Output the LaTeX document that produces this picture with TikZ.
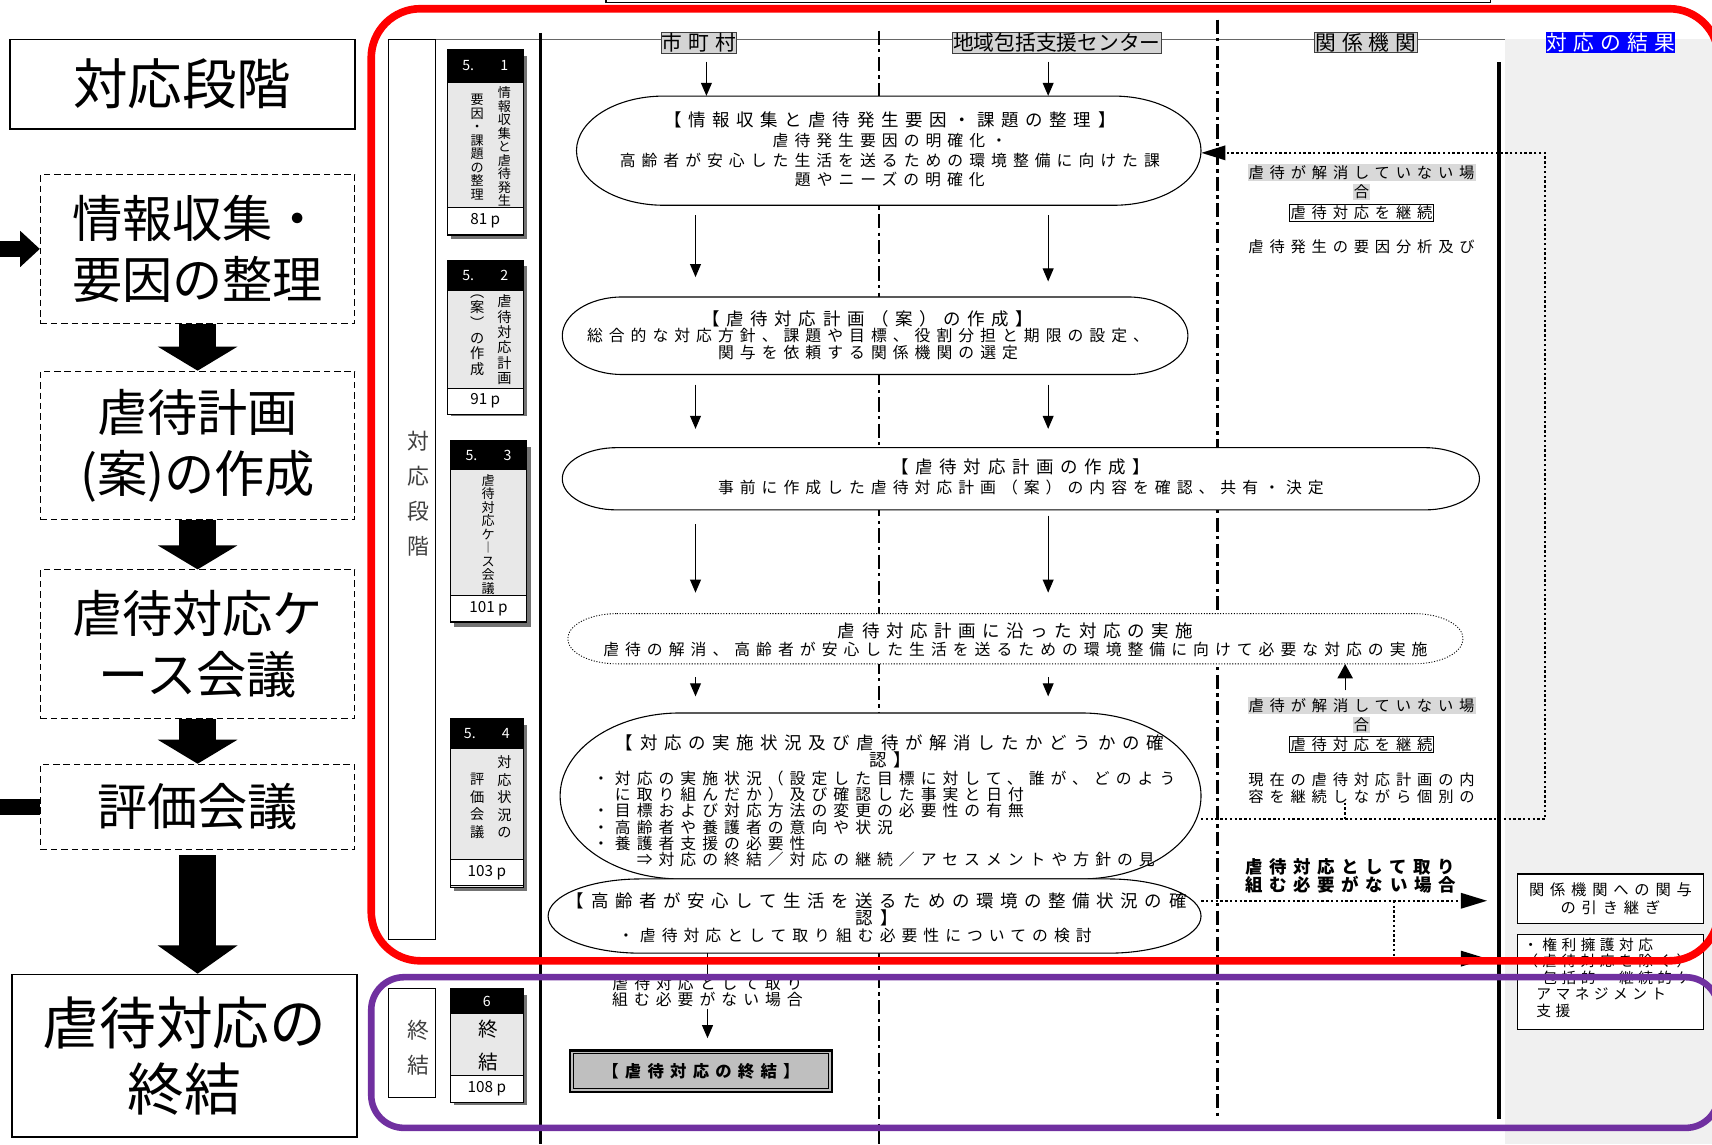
\documentclass[tikz,border=0pt]{standalone}
\usepackage{fontspec}
\setmainfont{Noto Sans CJK JP}
\newfontfamily\jp{Noto Sans CJK JP}
\newfontfamily\jpw[LetterSpace=38]{Noto Sans CJK JP}
\newfontfamily\jph[LetterSpace=30]{Noto Sans CJK JP}
\usetikzlibrary{arrows.meta}
\newcommand\ttl[1]{{\fontsize{16}{18}\selectfont #1}}
% capsule: name, x1, y1, x2, y2, end radius, style
\newcommand\capsule[7]{%
  \node[inner sep=0, minimum width={#4-#2}, minimum height={#5-#3}] (#1) at ({(#2+#4)/2},{(#3+#5)/2}) {};
  \draw[#7] ({#2+#6},#3) -- ({#4-#6},#3)
    arc[start angle=90, end angle=-90, x radius=#6pt, y radius={(#5-#3)/2*1pt}]
    -- ({#2+#6},#5)
    arc[start angle=270, end angle=90, x radius=#6pt, y radius={(#5-#3)/2*1pt}] -- cycle;
}
% tab frame: name, x1, x2, y1, yh, ybottom, header
\newcommand\tabframe[7]{%
  \fill[black!55] ({#2+4},{#4+6}) rectangle ({#3+4},{#6+4});
  \node[tabhead, minimum width={#3-#2}, minimum height={#5-#4}] (#1h) at (#2,#4) {#7};
  \node[tabbody, minimum width={#3-#2}, minimum height={#6-#5}] (#1b) at (#2,#5) {};
}
\tikzset{
  lbox/.style={draw, line width=1pt, dash pattern=on 6pt off 3.5pt, inner sep=0, align=center, font=\jp\fontsize{46}{56}\selectfont},
  sbox/.style={draw, line width=1.3pt, inner sep=0, align=center},
  bigarr/.style={line width=34pt, -{Triangle[width=72pt,length=22pt]}},
  lanehdr/.style={draw=black!75, fill=black!17, inner sep=0.5pt, font=\jph\fontsize{19}{19}\selectfont},
  ftxt/.style={inner sep=0, align=center, font=\jpw\fontsize{14.5}{18}\selectfont},
  arr/.style={line width=1.1pt, -{Triangle[width=10pt,length=12pt]}},
  dotln/.style={line width=2.2pt, dash pattern=on 2.2pt off 2.2pt},
  lanesep/.style={line width=2.6pt, dash pattern=on 13pt off 4pt on 3pt off 4pt},
  tabhead/.style={draw, line width=0.8pt, fill=black, text=white, inner sep=0, anchor=north west, font=\jp\fontsize{13}{13}\selectfont},
  tabbody/.style={draw, line width=0.8pt, fill=black!9, inner sep=0, anchor=north west},
  tabpage/.style={draw, line width=0.8pt, fill=white, inner sep=0, anchor=north west, minimum width=70, minimum height=24, font=\jp\fontsize{14}{14}\selectfont},
  tabtxt/.style={inner sep=0, align=center, anchor=north, font=\jp\fontsize{12}{12.4}\selectfont},
  vlabel/.style={inner sep=0, align=center, text=black!75, font=\jp\fontsize{20}{32}\selectfont},
  graytag/.style={fill=black!15, inner sep=1pt},
  resbox/.style={draw, line width=1pt, fill=white, inner sep=0, anchor=north west},
}
\begin{document}
\begin{tikzpicture}[x=1pt,y=-1pt]
\useasboundingbox (0,0) rectangle (1568,1048);
\fill[white] (0,0) rectangle (1568,1048);

% ---------- left column ----------
\node[sbox, minimum width=316, minimum height=82, font=\jp\fontsize{50}{50}\selectfont] (stage) at (167,77) {対応段階};
\node[lbox, minimum width=288, minimum height=136] (b1) at (181,228) {情報収集・\\要因の整理};
\node[lbox, minimum width=288, minimum height=136] (b2) at (181,408) {虐待計画\\(案)の作成};
\node[lbox, minimum width=288, minimum height=136] (b3) at (181,590) {虐待対応ケ\\ース会議};
\node[lbox, minimum width=288, minimum height=78] (b4) at (181,739) {評価会議};
\node[sbox, minimum width=316, minimum height=149, font=\jp\fontsize{52}{60}\selectfont] (b5) at (169,967) {虐待対応の\\終結};
\draw[bigarr] (b1.south) -- (b2.north);
\draw[bigarr] (b2.south) -- (b3.north);
\draw[bigarr] (b3.south) -- (b4.north);
\draw[bigarr, -{Triangle[width=72pt,length=26pt]}] (b4.south) ++(0,5) -- (b4.south |- b5.north);
\draw[line width=15pt, -{Triangle[width=32pt,length=18pt]}] (b4.west) -- ++(-60,0) |- (b1.west);

% ---------- main table background ----------
\fill[black!6] (1378,36) rectangle (1568,1048);
\draw[line width=1pt] (555,-10) rectangle (1365,2);
\draw[black!60, line width=0.8pt] (355,36) -- (1378,36);
\node[draw, line width=0.9pt, minimum width=43, minimum height=824, inner sep=0, anchor=north west] (stagecol) at (355,36) {};
\node[vlabel] (stagecolt) at (383,452) {対\\応\\段\\階};
\node[draw, line width=0.9pt, minimum width=43, minimum height=100, inner sep=0, anchor=north west] (endcol) at (355,905) {};
\node[vlabel] (endcolt) at (383,960) {終\\結};
\draw[line width=2.5pt] (495,30) -- (495,1048);
\draw[lanesep] (805,28) -- (805,1048);
\draw[lanesep] (1115,18) -- (1115,1025);
\draw[line width=3pt] (1373,57) -- (1373,1025);

% lane headers
\node[lanehdr] (h1) at (640,39) {市町村};
\node[lanehdr, font=\jp\fontsize{19}{19}\selectfont] (h2) at (968,39) {地域包括支援センター};
\node[lanehdr] (h3) at (1251,39) {関係機関};
\node[lanehdr, fill=blue, text=white, draw=none] (h4) at (1475,39) {対応の結果};
\coordinate (L1) at (637,0);
\coordinate (L1b) at (647,0);
\coordinate (L2) at (960,0);
\coordinate (L3) at (1232,0);

% ---------- step tabs ----------
\tabframe{t1}{409}{479}{45}{75}{215}{5.\hspace{24pt}1}
\node[tabtxt] (t1a) at (462,79) {情\\報\\収\\集\\と\\虐\\待\\発\\生};
\node[tabtxt] (t1c) at (437,86) {要\\因\\・\\課\\題\\の\\整\\理};
\node[tabpage] (t1p) at (409,190) {81 p};
\tabframe{t2}{409}{479}{238}{266}{377}{5.\hspace{24pt}2}
\node[tabtxt, font=\jp\fontsize{13}{14}\selectfont] (t2a) at (462,270) {虐\\待\\対\\応\\計\\画};
\node[tabtxt, font=\jp\fontsize{13}{14}\selectfont] (t2c) at (437,270) {︵\\案\\︶\\の\\作\\成};
\node[tabpage] (t2p) at (409,355) {91 p};
\tabframe{t3}{412}{482}{403}{430}{570}{5.\hspace{24pt}3}
\node[tabtxt] (t3a) at (447,434) {虐\\待\\対\\応\\ケ\\︱\\ス\\会\\議};
\node[tabpage] (t3p) at (412,545) {101 p};
\tabframe{t4}{412}{479}{658}{685}{812}{5.\hspace{24pt}4}
\node[tabtxt, font=\jp\fontsize{13}{16}\selectfont] (t4a) at (462,692) {対\\応\\状\\況\\の};
\node[tabtxt, font=\jp\fontsize{13}{16}\selectfont] (t4c) at (437,708) {評\\価\\会\\議};
\node[tabpage, minimum width=67] (t4p) at (412,787) {103 p};
\tabframe{t5}{412}{479}{905}{928}{1008}{6}
\node[tabtxt, font=\jp\fontsize{18}{30}\selectfont] (t5a) at (447,934) {終\\結};
\node[tabpage, minimum width=67] (t5p) at (412,985) {108 p};

% ---------- flow shapes ----------
\capsule{E1}{528}{88}{1100}{188}{80}{line width=1pt, fill=white}
\capsule{E2}{515}{272}{1088}{343}{55}{line width=1pt, fill=white}
\capsule{E3}{515}{410}{1355}{467}{50}{line width=1pt, fill=white}
\capsule{E4}{520}{562}{1340}{608}{45}{line width=0.8pt, dash pattern=on 1pt off 1.5pt, fill=white}
\capsule{E5}{513}{653}{1100}{805}{110}{line width=1pt, fill=white}
\capsule{E6}{502}{805}{1100}{873}{85}{line width=1pt, fill=white}

\node[ftxt] (E1t) at (815,137) {\ttl{【情報収集と虐待発生要因・課題の整理】}\\虐待発生要因の明確化・\\高齢者が安心した生活を送るための環境整備に向けた課\\題やニーズの明確化};
\node[ftxt, font=\jpw\fontsize{14.5}{15.5}\selectfont] (E2t) at (795,307) {\ttl{【虐待対応計画（案）の作成】}\\総合的な対応方針、課題や目標、役割分担と期限の設定、\\関与を依頼する関係機関の選定};
\node[ftxt] (E3t) at (935,437) {\ttl{【虐待対応計画の作成】}\\事前に作成した虐待対応計画（案）の内容を確認、共有・決定};
\node[ftxt, font=\jpw\fontsize{14.5}{16}\selectfont] (E4t) at (930,586) {\ttl{虐待対応計画に沿った対応の実施}\\虐待の解消、高齢者が安心した生活を送るための環境整備に向けて必要な対応の実施};
\node[ftxt, font=\jpw\fontsize{14.5}{14}\selectfont] (E5t) at (815,688) {\ttl{【対応の実施状況及び虐待が解消したかどうかの確}\\\ttl{認】}};
\node[ftxt, align=left, anchor=north west, font=\jpw\fontsize{14.5}{14.8}\selectfont] (E5b) at (543,706) {・対応の実施状況（設定した目標に対して、誰が、どのよう\\　に取り組んだか）及び確認した事実と日付\\・目標および対応方法の変更の必要性の有無\\・高齢者や養護者の意向や状況\\・養護者支援の必要性\\　　⇒対応の終結／対応の継続／アセスメントや方針の見};
\node[ftxt, font=\jpw\fontsize{14.5}{14}\selectfont] (E6t) at (803,833) {\ttl{【高齢者が安心して生活を送るための環境の整備状況の確}\\\ttl{認】}};
\node[ftxt] (E6b) at (783,857) {・虐待対応として取り組む必要性についての検討};

% flow arrows
\draw[arr, shorten <=8pt] (h1.south -| L1b) -- (E1.north -| L1b);
\draw[arr, shorten <=8pt] (h2.south -| L2) -- (E1.north -| L2);
\draw[arr, shorten <=9pt, shorten >=18pt] (E1.south -| L1) -- (E2.north -| L1);
\draw[arr, shorten <=9pt, shorten >=14pt] (E1.south -| L2) -- (E2.north -| L2);
\draw[arr, shorten <=9pt, shorten >=17pt] (E2.south -| L1) -- (E3.north -| L1);
\draw[arr, shorten <=9pt, shorten >=17pt] (E2.south -| L2) -- (E3.north -| L2);
\draw[arr, shorten <=13pt, shorten >=19pt] (E3.south -| L1) -- (E4.north -| L1);
\draw[arr, shorten <=5pt, shorten >=19pt] (E3.south -| L2) -- (E4.north -| L2);
\draw[arr, shorten <=12pt, shorten >=15pt] (E4.south -| L1) -- (E5.north -| L1);
\draw[arr, shorten <=12pt, shorten >=15pt] (E4.south -| L2) -- (E5.north -| L2);

% end of flow
\node[ftxt, font=\jpw\fontsize{14.5}{15}\selectfont] (cond) at (648,908) {虐待対応として取り\\組む必要がない場合};
\draw[line width=0.8pt] (E6.south -| cond) -- (cond.north);
\node[draw, line width=2.2pt, fill=black!25, minimum width=240, minimum height=38, inner sep=0, font=\jpw\bfseries\fontsize{15}{15}\selectfont] (endbox) at (642,981) {【虐待対応の終結】};
\draw[line width=0.8pt] ([shift={(4,4)}]endbox.north west) rectangle ([shift={(-4,-4)}]endbox.south east);
\draw[arr, shorten <=2pt, shorten >=10pt] (cond.south) -- (cond.south |- endbox.north);

% ---------- 関係機関 lane ----------
\node[graytag, font=\jpw\fontsize{14}{14}\selectfont] (u1) at (1247,158) {虐待が解消していない場};
\node[graytag, font=\jpw\fontsize{14}{14}\selectfont] (u2) at (1247,176) {合};
\node[draw, fill=white, inner sep=1pt, line width=0.8pt, font=\jpw\fontsize{14}{14}\selectfont] (u3) at (1247,195) {虐待対応を継続};
\node[inner sep=0, font=\jpw\fontsize{14}{14}\selectfont] (u4) at (1247,226) {虐待発生の要因分析及び};

\node[graytag, font=\jpw\fontsize{14}{14}\selectfont] (w1) at (1247,646) {虐待が解消していない場};
\node[graytag, font=\jpw\fontsize{14}{14}\selectfont] (w2) at (1247,664) {合};
\node[draw, fill=white, inner sep=1pt, line width=0.8pt, font=\jpw\fontsize{14}{14}\selectfont] (w3) at (1247,682) {虐待対応を継続};
\node[inner sep=0, font=\jpw\fontsize{14}{14}\selectfont] (w4) at (1247,714) {現在の虐待対応計画の内};
\begin{scope}
\clip (1120,700) rectangle (1370,735);
\node[inner sep=0, font=\jpw\fontsize{14}{14}\selectfont] (w5) at (1247,730) {容を継続しながら個別の};
\end{scope}
\coordinate (w5b) at (1232,735);
\draw[arr, -{Triangle[width=14pt,length=13pt]}, shorten <=6pt] (w1.north -| L3) -- (E4.south -| L3);

% dotted feedback loop
\coordinate (lpA) at (1100,750);
\coordinate (lpB) at (1415,750);
\coordinate (lpC) at (1415,140);
\draw[dotln] (w5b) -- (w5b |- lpA);
\draw[dotln, -{Triangle[width=13pt,length=22pt]}] (lpA) -- (lpB) -- (lpC) -- (E1.east |- lpC);

\node[inner sep=0, align=left, font=\jpw\bfseries\fontsize{16}{15}\selectfont] (cond2) at (1237,802) {虐待対応として取り\\組む必要がない場合};

% ---------- result column ----------
\node[resbox, minimum width=171, minimum height=45, align=center, font=\jpw\fontsize{14}{16}\selectfont] (resA) at (1389,800) {関係機関への関与\\の引き継ぎ};
\node[resbox, minimum width=171, minimum height=87] (resB) at (1389,855) {};
\node[inner sep=0, anchor=north west, align=left, font=\jph\fontsize{13.5}{15}\selectfont] (resBt) at (1395,859) {・権利擁護対応\\（虐待対応を除く）\\・包括的・継続的ケ\\\hspace{12pt}アマネジメント\\\hspace{12pt}支援};

\coordinate (ra) at (0,825);
\coordinate (rb) at (1277,825);
\coordinate (rc) at (0,878);
\draw[dotln, -{Triangle[width=14pt,length=24pt]}, shorten >=27pt] (E6.east |- ra) -- (resA.west |- ra);
\draw[dotln, -{Triangle[width=14pt,length=24pt]}, shorten >=27pt] (rb) |- (resB.west |- rc);

% ---------- highlight frames ----------
\draw[red, line width=7pt, rounded corners=45pt] (340,8) rectangle (1574,880);
\draw[draw={rgb,255:red,112;green,48;blue,160}, line width=6pt, rounded corners=30pt] (340,895) rectangle (1574,1033);
\end{tikzpicture}
\end{document}
